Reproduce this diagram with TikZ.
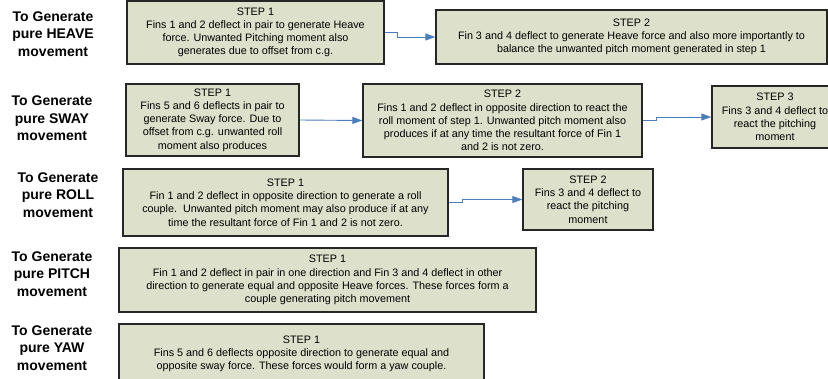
\documentclass[tikz,border=0pt]{standalone}
\usepackage{fontspec}
\setmainfont{Liberation Sans}
\usepackage{xcolor}
\usepackage{tikz}
\usetikzlibrary{arrows.meta}

\definecolor{boxfill}{RGB}{221,224,203}
\definecolor{arrblue}{RGB}{74,126,187}

\begin{document}
\begin{tikzpicture}[
  x=1pt, y=-1pt,
  stepbox/.style={draw=black!85, fill=boxfill, line width=1.4pt, align=center, inner sep=1pt,
    font=\fontsize{10.8}{13.2}\selectfont},
  movlabel/.style={align=center, font=\fontsize{14}{17.5}\selectfont\bfseries},
  arr/.style={draw=arrblue, line width=0.9pt, -{Triangle[length=10pt, width=7pt]}}
]
\useasboundingbox (0,0) rectangle (828,378);
\clip (0,0) rectangle (828,378);

\node[movlabel] (lh) at (53,34) {To Generate\\pure HEAVE\\movement};
\node[stepbox, minimum width=257pt, minimum height=63pt] (h1) at (255.5,32.5)
  {STEP 1\\Fins 1 and 2 deflect in pair to generate Heave\\force. Unwanted Pitching moment also\\generates due to offset from c.g.};
\node[stepbox, minimum width=391pt, minimum height=54pt] (h2) at (631.5,37)
  {STEP 2\\Fin 3 and 4 deflect to generate Heave force and also more importantly to\\balance the unwanted pitch moment generated in step 1};

\node[movlabel] (ls) at (52,118.5) {To Generate\\pure SWAY\\movement};
\node[stepbox, minimum width=173pt, minimum height=72pt] (s1) at (212.5,120)
  {STEP 1\\Fins 5 and 6 deflects in pair to\\generate Sway force. Due to\\offset from c.g. unwanted roll\\moment also produces};
\node[stepbox, minimum width=279pt, minimum height=73pt] (s2) at (502.5,120.5)
  {STEP 2\\Fins 1 and 2 deflect in opposite direction to react the\\roll moment of step 1. Unwanted pitch moment also\\produces if at any time the resultant force of Fin 1\\and 2 is not zero.};
\node[stepbox, minimum width=126pt, minimum height=62pt] (s3) at (775,117)
  {STEP 3\\Fins 3 and 4 deflect to\\react the pitching\\moment};

\node[movlabel] (lr) at (58,195) {To Generate\\pure ROLL\\movement};
\node[stepbox, minimum width=325pt, minimum height=67pt] (r1) at (285.5,202.5)
  {STEP 1\\Fin 1 and 2 deflect in opposite direction to generate a roll\\couple.\ \ Unwanted pitch moment may also produce if at any\\time the resultant force of Fin 1 and 2 is not zero.};
\node[stepbox, minimum width=130pt, minimum height=61pt] (r2) at (588,199.5)
  {STEP 2\\Fins 3 and 4 deflect to\\react the pitching\\moment};

\node[movlabel] (lp) at (52,274) {To Generate\\pure PITCH\\movement};
\node[stepbox, minimum width=417pt, minimum height=64pt] (p1) at (327.5,280)
  {STEP 1\\Fin 1 and 2 deflect in pair in one direction and Fin 3 and 4 deflect in other\\direction to generate equal and opposite Heave forces. These forces form a\\couple generating pitch movement};

\node[movlabel] (ly) at (52,348) {To Generate\\pure YAW\\movement};
\node[stepbox, minimum width=365pt, minimum height=60pt] (y1) at (301.5,354)
  {STEP 1\\Fins 5 and 6 deflects opposite direction to generate equal and\\opposite sway force. These forces would form a yaw couple.};

\draw[arr] (h1.east) -- ++(13,0) |- (h2.west);
\draw[arr] (s1.east) -- (s2.west);
\draw[arr] (s2.east) -- ++(14,0) |- (s3.west);
\draw[arr] (r1.east) -- ++(14,0) |- (r2.west);
\end{tikzpicture}
\end{document}
